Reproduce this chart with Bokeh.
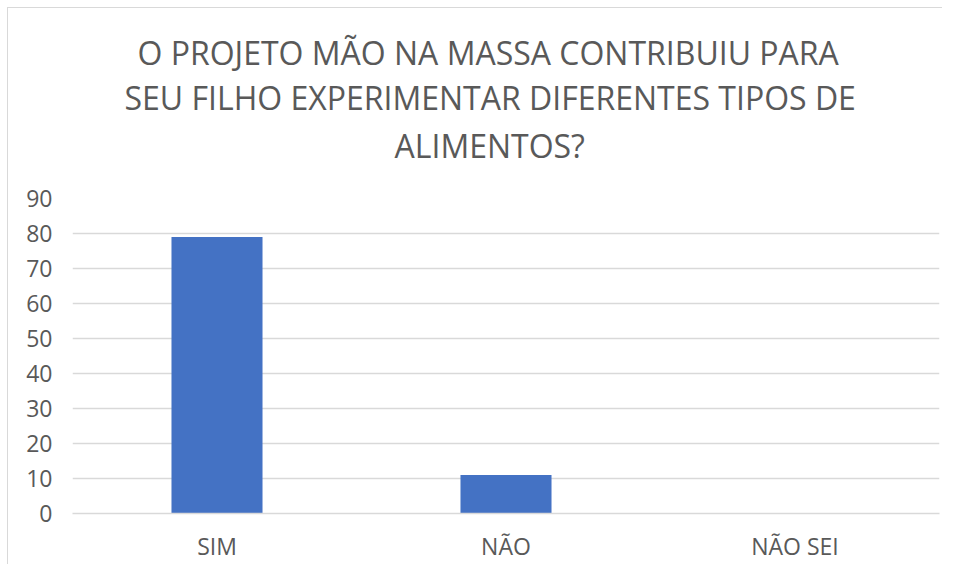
from bokeh.plotting import figure
from bokeh.models import Range1d, FixedTicker, Title
from bokeh.embed import file_html
from bokeh.resources import INLINE

categories = ["SIM", "NÃO", "NÃO SEI"]
values = [79, 11, 0]
y_ticks = [0, 10, 20, 30, 40, 50, 60, 70, 80, 90]
title_lines = ["O PROJETO MÃO NA MASSA CONTRIBUIU PARA",
               "SEU FILHO EXPERIMENTAR DIFERENTES TIPOS DE",
               "ALIMENTOS?"]

FONT = "Open Sans"
TXT = "#595959"
GRID = "#d9d9d9"

p = figure(x_range=categories, y_range=Range1d(0, 90),
           frame_width=867, frame_height=315,
           min_border_left=64, min_border_right=3,
           min_border_top=190, min_border_bottom=41,
           output_backend="svg", toolbar_location=None,
           background_fill_color="white", border_fill_color="white",
           outline_line_color=None,
           styles={"border-left": "1px solid #d9d9d9", "border-top": "1px solid #d9d9d9",
                   "margin-left": "7px", "margin-top": "7px"})

p.vbar(x=categories, top=values, width=0.315, color="#4472C4", line_color=None)

def style_title(t, offset, standoff, size="32px"):
    t.align = "left"
    t.offset = offset
    t.text_font = FONT
    t.text_font_size = size
    t.text_font_style = "normal"
    t.text_color = TXT
    t.standoff = standoff

# outermost title = first line; extra titles are stacked from the frame outward
p.title.text = title_lines[0]
style_title(p.title, 65, 0)
spacer = Title(text=" ")
style_title(spacer, 0, 24, size="2px")
p.add_layout(spacer, "above")
t3 = Title(text=title_lines[2])
style_title(t3, 322, 6)
p.add_layout(t3, "above")
t2 = Title(text=title_lines[1])
style_title(t2, 52, 0)
p.add_layout(t2, "above")

p.xgrid.grid_line_color = None
p.ygrid.grid_line_color = GRID
p.ygrid.grid_line_width = 1.5
p.yaxis.ticker = FixedTicker(ticks=y_ticks)
p.yaxis.axis_line_color = None
p.yaxis.major_tick_line_color = None
p.yaxis.minor_tick_line_color = None
p.yaxis.major_tick_out = 0
p.yaxis.major_tick_in = 0
p.yaxis.major_label_standoff = 20
p.xaxis.axis_line_color = GRID
p.xaxis.axis_line_width = 1.5
p.xaxis.major_tick_line_color = None
p.xaxis.major_tick_out = 0
p.xaxis.major_tick_in = 0
p.xaxis.major_label_standoff = 16
for ax in (p.xaxis, p.yaxis):
    ax.major_label_text_font = FONT
    ax.major_label_text_font_size = "23px"
    ax.major_label_text_color = TXT

open("out.html", "w").write(file_html(p, INLINE))
